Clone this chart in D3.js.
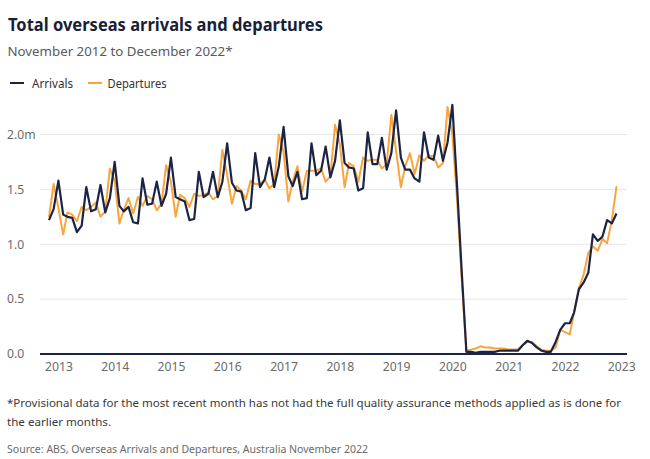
<!DOCTYPE html>
<html>
<head>
<meta charset="utf-8">
<script src="https://cdn.jsdelivr.net/npm/d3@7"></script>
<style>
  html, body { margin: 0; padding: 0; background: #fff; }
  svg { display: block; }
  text { font-family: "Noto Sans", "Open Sans", sans-serif; }
</style>
</head>
<body>
<svg id="chart" width="650" height="459"></svg>
<script>
// ---- data (millions of movements, monthly, Nov 2012 – Dec 2022) ----
const startMonth = "2012-11";
const arrivals = [
  1.22, 1.32,
  1.58, 1.27, 1.25, 1.24, 1.11, 1.17, 1.52, 1.30, 1.32, 1.54, 1.29, 1.42,
  1.75, 1.35, 1.30, 1.34, 1.20, 1.19, 1.60, 1.36, 1.37, 1.57, 1.35, 1.46,
  1.79, 1.43, 1.41, 1.39, 1.22, 1.23, 1.66, 1.43, 1.46, 1.66, 1.43, 1.57,
  1.92, 1.56, 1.49, 1.48, 1.31, 1.33, 1.83, 1.52, 1.59, 1.79, 1.52, 1.71,
  2.07, 1.62, 1.53, 1.66, 1.41, 1.42, 1.92, 1.63, 1.67, 1.89, 1.61, 1.76,
  2.13, 1.74, 1.70, 1.69, 1.49, 1.51, 2.02, 1.73, 1.73, 1.97, 1.68, 1.83,
  2.22, 1.79, 1.68, 1.68, 1.60, 1.57, 2.02, 1.79, 1.77, 1.99, 1.76, 1.93,
  2.27, 1.52, 0.77, 0.02, 0.02, 0.01, 0.02, 0.02, 0.02, 0.02, 0.03, 0.03,
  0.03, 0.03, 0.03, 0.08, 0.12, 0.10, 0.06, 0.03, 0.02, 0.02, 0.11, 0.22,
  0.28, 0.28, 0.38, 0.59, 0.65, 0.74, 1.09, 1.03, 1.07, 1.22, 1.19, 1.28
];
const departures = [
  1.25, 1.55,
  1.33, 1.09, 1.29, 1.27, 1.21, 1.34, 1.31, 1.34, 1.38, 1.25, 1.30, 1.69,
  1.58, 1.19, 1.31, 1.42, 1.28, 1.43, 1.35, 1.44, 1.41, 1.31, 1.37, 1.72,
  1.57, 1.25, 1.45, 1.42, 1.34, 1.46, 1.44, 1.45, 1.47, 1.41, 1.44, 1.86,
  1.63, 1.37, 1.53, 1.49, 1.41, 1.58, 1.55, 1.55, 1.59, 1.51, 1.55, 2.00,
  1.84, 1.39, 1.57, 1.71, 1.48, 1.67, 1.67, 1.67, 1.69, 1.57, 1.62, 2.09,
  1.91, 1.52, 1.74, 1.71, 1.57, 1.79, 1.76, 1.77, 1.77, 1.69, 1.73, 2.18,
  1.85, 1.52, 1.71, 1.83, 1.64, 1.81, 1.76, 1.81, 1.80, 1.70, 1.74, 2.25,
  2.00, 1.40, 0.70, 0.03, 0.04, 0.05, 0.07, 0.06, 0.06, 0.05, 0.05, 0.05,
  0.04, 0.04, 0.04, 0.08, 0.11, 0.11, 0.07, 0.04, 0.03, 0.03, 0.06, 0.22,
  0.20, 0.18, 0.38, 0.60, 0.72, 0.92, 0.98, 0.94, 1.05, 1.01, 1.22, 1.53
];
const yTicks = [0, 0.5, 1.0, 1.5, 2.0];
const yTickLabels = ["0.0", "0.5", "1.0", "1.5", "2.0m"];
const xTickYears = [2013, 2014, 2015, 2016, 2017, 2018, 2019, 2020, 2021, 2022, 2023];
const seriesNames = ["Arrivals", "Departures"];
const seriesColors = ["#1b2444", "#f9a53c"];

const titleText = "Total overseas arrivals and departures";
const subtitleText = "November 2012 to December 2022*";
const noteLines = [
  "*Provisional data for the most recent month has not had the full quality assurance methods applied as is done for",
  "the earlier months."
];
const sourceText = "Source: ABS, Overseas Arrivals and Departures, Australia November 2022";

// ---- build ----
const parse = d3.timeParse("%Y-%m");
const t0 = parse(startMonth);
const months = arrivals.map((_, i) => d3.timeMonth.offset(t0, i));

const svg = d3.select("#chart");

const x = d3.scaleTime()
  .domain([months[0], months[months.length - 1]])
  .range([49, 616.5]);
const y = d3.scaleLinear().domain([0, 2]).range([354, 134.5]);

const plotLeft = 40, plotRight = 627;

function fitText(sel, w) {
  sel.attr("textLength", w).attr("lengthAdjust", "spacingAndGlyphs");
}

// title / subtitle
svg.append("text").attr("x", 8).attr("y", 30.5)
  .attr("font-size", 17.5).attr("font-weight", 700).attr("fill", "#1a1f36")
  .text(titleText).call(fitText, 315);
svg.append("text").attr("x", 7.5).attr("y", 56)
  .attr("font-size", 13.2).attr("fill", "#5a5a5a")
  .text(subtitleText).call(fitText, 225);

// legend
const legend = svg.append("g");
const legendX = [10, 88];
const legendTextX = [32, 107.5];
const legendW = [41, 59];
seriesNames.forEach((n, i) => {
  legend.append("line")
    .attr("x1", legendX[i]).attr("x2", legendX[i] + 14)
    .attr("y1", 83).attr("y2", 83)
    .attr("stroke", seriesColors[i]).attr("stroke-width", 2);
  legend.append("text").attr("x", legendTextX[i]).attr("y", 88)
    .attr("font-size", 12).attr("fill", "#333")
    .text(n).call(fitText, legendW[i]);
});

// gridlines
svg.append("g").selectAll("line")
  .data(yTicks.filter(d => d > 0))
  .join("line")
  .attr("x1", plotLeft).attr("x2", plotRight)
  .attr("y1", d => y(d)).attr("y2", d => y(d))
  .attr("stroke", "#e6e6e6").attr("stroke-width", 1);

// y labels
svg.append("g").selectAll("text")
  .data(yTicks)
  .join("text")
  .attr("x", 7)
  .attr("y", d => y(d) + 4.3)
  .attr("font-size", 12.2).attr("fill", "#6b6b6b")
  .text((d, i) => yTickLabels[i]);

// x axis labels
const xTickDates = xTickYears.map(yr => new Date(yr, 0, 1));
const xAxis = d3.axisBottom(x)
  .tickValues(xTickDates)
  .tickFormat(d3.timeFormat("%Y"))
  .tickSize(0).tickPadding(0);
const xg = svg.append("g").attr("transform", "translate(0,371)").call(xAxis);
xg.select(".domain").remove();
xg.selectAll("text")
  .attr("font-size", 12.2).attr("fill", "#6b6b6b")
  .attr("dy", 0)
  .style("font-family", "\"Noto Sans\", sans-serif");

// lines
const line = d3.line().x((d, i) => x(months[i])).y(d => y(d));
[departures, arrivals].forEach((s, k) => {
  const color = k === 0 ? seriesColors[1] : seriesColors[0];
  svg.append("path").datum(s)
    .attr("d", line)
    .attr("fill", "none")
    .attr("stroke", color)
    .attr("stroke-width", k === 0 ? 2 : 2.2)
    .attr("stroke-linejoin", "round");
});

// zero baseline
svg.append("line")
  .attr("x1", plotLeft).attr("x2", plotRight)
  .attr("y1", y(0)).attr("y2", y(0))
  .attr("stroke", "#1b2444").attr("stroke-width", 2);

// notes
noteLines.forEach((t, i) => {
  const tx = svg.append("text").attr("x", 7).attr("y", 407 + i * 19)
    .attr("font-size", 11.2).attr("fill", "#3a3a3a").text(t);
  if (i === 0) tx.call(fitText, 614);
  else tx.call(fitText, 104);
});
svg.append("text").attr("x", 7).attr("y", 453)
  .attr("font-size", 11).attr("fill", "#6b6b6b")
  .text(sourceText).call(fitText, 361);
</script>
</body>
</html>
